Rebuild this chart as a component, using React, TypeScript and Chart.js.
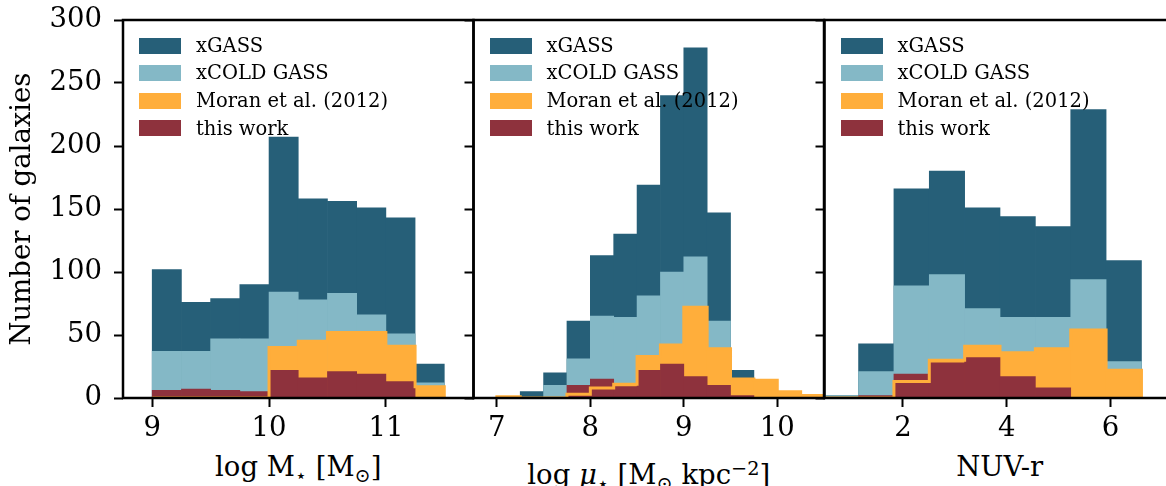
import React, { useEffect, useRef } from 'react';
import { Chart, registerables } from 'chart.js';

Chart.register(...registerables);

const FONT_FAMILY = '"DejaVu Serif", "Liberation Serif", serif';

const seriesLabels = ['xGASS', 'xCOLD GASS', 'Moran et al. (2012)', 'this work'];
const seriesColors = ['#265f78', '#84b8c6', '#ffae3b', '#8e323d'];

// Panel 1: log M* [Msun]
const massEdges = [9.0, 9.25, 9.5, 9.75, 10.0, 10.25, 10.5, 10.75, 11.0, 11.25, 11.5];
const massXGASS = [102, 76, 79, 90, 207, 158, 156, 151, 143, 27];
const massXCOLD = [37, 37, 47, 47, 84, 78, 83, 66, 51, 12];
const massMoran = [0, 0, 0, 0, 40, 45, 52, 52, 41, 9];
const massThisWork = [6, 7, 6, 5, 22, 16, 21, 19, 13, 0];
const massTicks = [9, 10, 11];

// Panel 2: log mu* [Msun kpc^-2]
const muEdges = [7.0, 7.25, 7.5, 7.75, 8.0, 8.25, 8.5, 8.75, 9.0, 9.25, 9.5, 9.75, 10.0, 10.25, 10.5];
const muXGASS = [0, 5, 20, 61, 113, 130, 169, 240, 278, 147, 22, 0, 0, 0];
const muXCOLD = [0, 0, 10, 31, 65, 64, 81, 100, 112, 61, 12, 0, 0, 0];
const muMoran = [1, 0, 0, 3, 8, 11, 33, 42, 72, 39, 15, 14, 5, 2];
const muThisWork = [0, 0, 0, 10, 15, 9, 22, 27, 17, 10, 2, 0, 0, 0];
const muTicks = [7, 8, 9, 10];

// Panel 3: NUV-r
const nuvEdges = [0.465, 1.146, 1.827, 2.508, 3.189, 3.87, 4.551, 5.232, 5.913, 6.594];
const nuvXGASS = [2, 43, 166, 180, 151, 144, 136, 229, 109];
const nuvXCOLD = [2, 21, 89, 98, 71, 64, 64, 94, 29];
const nuvMoran = [0, 0, 13, 30, 41, 36, 39, 54, 22];
const nuvThisWork = [0, 2, 19, 28, 32, 17, 8, 0, 0];
const nuvTicks = [2, 4, 6];

const yTickValues = [0, 50, 100, 150, 200, 250, 300];
const yMin = 0;
const yMax = 300;

type PanelSpec = {
  edges: number[];
  xgass: number[];
  xcold: number[];
  moran: number[];
  thisWork: number[];
  ticks: number[];
  xMin: number;
  xMax: number;
};

const panels: PanelSpec[] = [
  { edges: massEdges, xgass: massXGASS, xcold: massXCOLD, moran: massMoran, thisWork: massThisWork, ticks: massTicks, xMin: 8.75, xMax: 11.75 },
  { edges: muEdges, xgass: muXGASS, xcold: muXCOLD, moran: muMoran, thisWork: muThisWork, ticks: muTicks, xMin: 6.75, xMax: 10.5 },
  { edges: nuvEdges, xgass: nuvXGASS, xcold: nuvXCOLD, moran: nuvMoran, thisWork: nuvThisWork, ticks: nuvTicks, xMin: 0.49, xMax: 7.24 },
];

// layout (pixels)
const CANVAS_W = 1180;
const CANVAS_H = 450;
const PLOT_LEFT = [123, 473.5, 824.5];
const PLOT_WIDTH = 350.5;
const PLOT_TOP = 20;
const PLOT_BOTTOM = 398;
const AXIS_FONT_SIZE = 27.5;

function buildBars(edges: number[], values: number[]) {
  return values.map((v, i) => ({ x: (edges[i] + edges[i + 1]) / 2, y: v > 0 ? v : null }));
}

function buildOutline(edges: number[], values: number[]) {
  const pts: { x: number; y: number }[] = [{ x: edges[0], y: 0 }];
  values.forEach((v, i) => {
    pts.push({ x: edges[i], y: v });
    pts.push({ x: edges[i + 1], y: v });
  });
  pts.push({ x: edges[edges.length - 1], y: 0 });
  return pts;
}

const framePlugin = {
  id: 'frame',
  afterDatasetsDraw(chart: any) {
    const { ctx, chartArea } = chart;
    const { left, top, right, bottom } = chartArea;
    ctx.save();
    ctx.strokeStyle = '#000';
    ctx.lineWidth = 2.5;
    ctx.strokeRect(left, top, right - left, bottom - top);
    ctx.restore();
  },
};

function barDataset(label: string, edges: number[], values: number[], color: string, order: number) {
  return {
    type: 'bar' as const,
    label,
    data: buildBars(edges, values),
    backgroundColor: color,
    borderWidth: 0,
    grouped: false,
    barPercentage: 1,
    categoryPercentage: 1,
    order,
  };
}

function zeroPadding(s: any) {
  s.paddingTop = 0;
  s.paddingBottom = 0;
  s.paddingLeft = 0;
  s.paddingRight = 0;
}

function HistPanel({ spec, index }: { spec: PanelSpec; index: number }) {
  const ref = useRef<HTMLCanvasElement>(null);
  useEffect(() => {
    const left = PLOT_LEFT[index];
    const right = left + PLOT_WIDTH;
    const showY = index === 0;
    const tickGrid = {
      display: true,
      drawOnChartArea: false,
      drawTicks: true,
      tickLength: 9,
      tickWidth: 2,
      tickColor: '#000',
      offset: false,
    };
    const chart = new Chart(ref.current as HTMLCanvasElement, {
      type: 'bar',
      data: {
        datasets: [
          barDataset(seriesLabels[0], spec.edges, spec.xgass, seriesColors[0], 5),
          barDataset(seriesLabels[1], spec.edges, spec.xcold, seriesColors[1], 4),
          barDataset(seriesLabels[2], spec.edges, spec.moran, seriesColors[2], 3),
          barDataset(seriesLabels[3], spec.edges, spec.thisWork, seriesColors[3], 2),
          {
            type: 'line' as const,
            label: seriesLabels[2] + ' outline',
            data: buildOutline(spec.edges, spec.moran),
            borderColor: seriesColors[2],
            borderWidth: 3,
            pointRadius: 0,
            fill: false,
            tension: 0,
            order: 1,
          },
        ] as any,
      },
      options: {
        animation: false,
        responsive: false,
        maintainAspectRatio: false,
        devicePixelRatio: 1,
        events: [],
        layout: { padding: { left: 0, top: PLOT_TOP, right: CANVAS_W - right, bottom: 0 } },
        plugins: {
          legend: { display: false },
          tooltip: { enabled: false },
          title: { display: false },
        },
        scales: {
          x: {
            type: 'linear',
            min: spec.xMin,
            max: spec.xMax,
            offset: false,
            afterBuildTicks: (s: any) => {
              s.ticks = spec.ticks.map((v) => ({ value: v }));
            },
            afterFit: (s: any) => {
              s.height = CANVAS_H - PLOT_BOTTOM;
              zeroPadding(s);
            },
            grid: tickGrid,
            border: { display: false },
            ticks: {
              font: { family: FONT_FAMILY, size: AXIS_FONT_SIZE },
              color: '#000',
              padding: 5,
              maxRotation: 0,
              autoSkip: false,
            },
          },
          y: {
            type: 'linear',
            min: yMin,
            max: yMax,
            afterBuildTicks: (s: any) => {
              s.ticks = yTickValues.map((v) => ({ value: v }));
            },
            afterFit: (s: any) => {
              s.width = left;
              zeroPadding(s);
            },
            grid: tickGrid,
            border: { display: false },
            ticks: {
              display: showY,
              font: { family: FONT_FAMILY, size: AXIS_FONT_SIZE },
              color: '#000',
              padding: 12,
            },
            title: {
              display: showY,
              text: 'Number of galaxies',
              font: { family: FONT_FAMILY, size: AXIS_FONT_SIZE },
              color: '#000',
              padding: { top: 6, bottom: 0 },
            },
          },
        },
      } as any,
      plugins: [framePlugin],
    });
    return () => chart.destroy();
  }, [spec, index]);
  return (
    <canvas
      ref={ref}
      width={CANVAS_W}
      height={CANVAS_H}
      style={{ position: 'absolute', left: 0, top: 0, width: CANVAS_W, height: CANVAS_H }}
    />
  );
}

const LEGEND_ROW_CENTERS = [45.5, 73.1, 100.7, 128.3];

function Legend({ left }: { left: number }) {
  return (
    <>
      {seriesLabels.map((label, i) => (
        <React.Fragment key={label}>
          <div
            style={{
              position: 'absolute',
              left: left + 16,
              top: LEGEND_ROW_CENTERS[i] - 8,
              width: 42,
              height: 16,
              background: seriesColors[i],
            }}
          />
          <div
            style={{
              position: 'absolute',
              left: left + 73,
              top: LEGEND_ROW_CENTERS[i] - 11.7,
              font: `19.5px ${FONT_FAMILY}`,
              lineHeight: '24px',
              whiteSpace: 'nowrap',
              color: '#000',
            }}
          >
            {label}
          </div>
        </React.Fragment>
      ))}
    </>
  );
}

const subStyle: React.CSSProperties = { fontSize: '0.7em', verticalAlign: '-0.3em', lineHeight: 0 };
const supStyle: React.CSSProperties = { fontSize: '0.7em', verticalAlign: '0.45em', lineHeight: 0 };

function XTitle({ center, top, children }: { center: number; top: number; children: React.ReactNode }) {
  return (
    <div
      style={{
        position: 'absolute',
        left: center - 200,
        width: 400,
        top,
        textAlign: 'center',
        font: `${AXIS_FONT_SIZE}px ${FONT_FAMILY}`,
        lineHeight: '33px',
        whiteSpace: 'nowrap',
        color: '#000',
      }}
    >
      {children}
    </div>
  );
}

export default function App() {
  return (
    <div
      style={{
        position: 'fixed',
        left: 0,
        top: 0,
        width: 1166,
        height: 486,
        overflow: 'hidden',
        background: '#fff',
      }}
    >
      {panels.map((p, i) => (
        <HistPanel key={i} spec={p} index={i} />
      ))}
      {PLOT_LEFT.map((l, i) => (
        <Legend key={i} left={l} />
      ))}
      <XTitle center={PLOT_LEFT[0] + PLOT_WIDTH / 2} top={450}>
        log M<span style={subStyle}>⋆</span> [M<span style={subStyle}>⊙</span>]
      </XTitle>
      <XTitle center={PLOT_LEFT[1] + PLOT_WIDTH / 2} top={458}>
        log <i>μ</i>
        <span style={subStyle}>⋆</span> [M<span style={subStyle}>⊙</span> kpc<span style={supStyle}>−2</span>]
      </XTitle>
      <XTitle center={PLOT_LEFT[2] + PLOT_WIDTH / 2} top={450}>
        NUV-r
      </XTitle>
    </div>
  );
}
